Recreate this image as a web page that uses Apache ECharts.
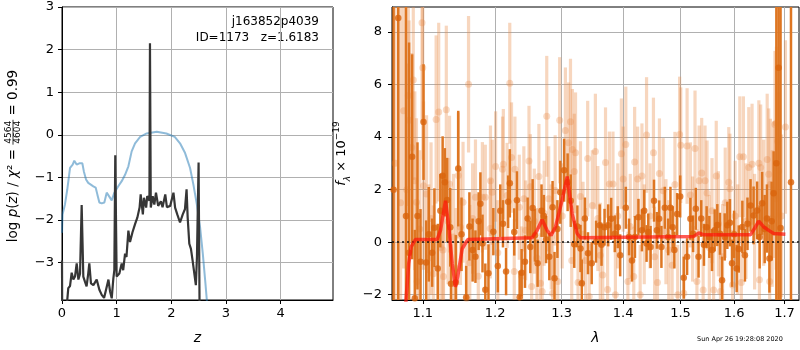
<!DOCTYPE html>
<html>
<head>
<meta charset="utf-8">
<script src="https://cdn.jsdelivr.net/npm/echarts@6/dist/echarts.min.js"></script>
<style>html,body{margin:0;padding:0;background:#fff}#main{width:800px;height:350px}</style>
</head>
<body>
<div id="main"></div>
<script>
// ---- left panel: log p(z) ----
var zPz = [0, 0.01, 0.055, 0.097, 0.147, 0.195, 0.225, 0.268, 0.317, 0.372, 0.40, 0.44, 0.48, 0.51, 0.574, 0.616, 0.647, 0.684, 0.727, 0.775, 0.818, 0.86, 0.91, 0.958, 1.03, 1.093, 1.154, 1.215, 1.275, 1.337, 1.43, 1.55, 1.734, 1.91, 2.064, 2.16, 2.253, 2.344, 2.405, 2.467, 2.527, 2.577, 2.625, 2.65, 2.70];
var lnPz = [-2.3, -1.87, -1.63, -1.28, -0.78, -0.70, -0.61, -0.70, -0.67, -0.67, -0.86, -1.05, -1.13, -1.17, -1.21, -1.24, -1.40, -1.59, -1.61, -1.59, -1.36, -1.44, -1.54, -1.36, -1.21, -1.09, -0.94, -0.74, -0.39, -0.20, -0.05, 0.03, 0.07, 0.03, -0.05, -0.20, -0.43, -0.78, -1.17, -1.63, -2.17, -2.79, -3.49, -3.87, -4.6];

var zChi = [0, 0.005, 0.09, 0.097, 0.115, 0.147, 0.177, 0.208, 0.238, 0.269, 0.30, 0.33, 0.36, 0.39, 0.42, 0.45, 0.48, 0.50, 0.53, 0.574, 0.635, 0.684, 0.727, 0.77, 0.806, 0.85, 0.88, 0.91, 0.94, 0.958, 0.975, 1.0, 1.05, 1.093, 1.12, 1.154, 1.18, 1.215, 1.245, 1.29, 1.337, 1.38, 1.42, 1.44, 1.48, 1.50, 1.54, 1.56, 1.60, 1.61, 1.625, 1.66, 1.69, 1.72, 1.76, 1.81, 1.84, 1.89, 1.92, 1.98, 2.04, 2.07, 2.11, 2.16, 2.21, 2.25, 2.28, 2.30, 2.33, 2.36, 2.39, 2.42, 2.45, 2.47, 2.50, 2.52];
var lnChi = [-2.95, -4.5, -4.5, -3.87, -3.6, -3.55, -3.24, -3.4, -3.33, -3.02, -3.4, -3.26, -1.65, -3.33, -3.45, -3.56, -3.26, -3.02, -3.49, -3.53, -3.4, -3.64, -3.76, -3.83, -3.64, -3.4, -3.68, -3.84, -3.37, -3.18, -0.48, -3.33, -3.26, -3.02, -3.18, -2.79, -2.87, -2.25, -2.52, -2.29, -2.1, -1.94, -1.71, -1.40, -1.87, -1.48, -1.71, -1.44, -1.55, 2.15, -1.71, -1.44, -1.64, -1.36, -1.67, -1.56, -1.70, -1.40, -1.70, -1.67, -1.36, -1.71, -1.87, -2.06, -1.87, -1.75, -1.28, -1.94, -2.56, -2.68, -2.95, -2.91, -3.53, -2.87, -0.65, -4.5];

var zTicks = [0, 1, 2, 3, 4];
var pzTicks = [-3, -2, -1, 0, 1, 2, 3];

// ---- right panel: spectrum ----
var waveD = [1.062, 1.068, 1.078, 1.082, 1.086, 1.0895, 1.093, 1.097, 1.101, 1.1045, 1.108, 1.1125, 1.1155, 1.120, 1.1235, 1.1266, 1.1296, 1.1326, 1.137, 1.138, 1.1446, 1.148, 1.1525, 1.159, 1.1635, 1.168, 1.172, 1.1765, 1.179, 1.182, 1.186, 1.1905, 1.1975, 1.204, 1.2075, 1.2115, 1.216, 1.219, 1.2215, 1.228, 1.232, 1.236, 1.239, 1.244, 1.248, 1.252, 1.2555, 1.259, 1.263, 1.269, 1.2725, 1.276, 1.281, 1.286, 1.289, 1.2935, 1.298, 1.304, 1.3095, 1.3145, 1.320, 1.325, 1.330, 1.332, 1.337, 1.342, 1.348, 1.355, 1.361, 1.364, 1.369, 1.375, 1.380, 1.386, 1.391, 1.395, 1.4045, 1.41, 1.415, 1.42, 1.426, 1.432, 1.436, 1.44, 1.443, 1.447, 1.453, 1.458, 1.462, 1.466, 1.472, 1.478, 1.482, 1.486, 1.489, 1.494, 1.4995, 1.506, 1.512, 1.518, 1.523, 1.528, 1.533, 1.538, 1.543, 1.548, 1.553, 1.558, 1.563, 1.568, 1.573, 1.577, 1.582, 1.587, 1.592, 1.596, 1.600, 1.605, 1.609, 1.616, 1.621, 1.626, 1.632, 1.638, 1.645, 1.650, 1.655, 1.660, 1.6645, 1.6695, 1.674, 1.678, 1.6835, 1.688, 1.692, 1.7134];
var fluxD = [2.0, 8.53, 1.0, -0.4, 3.25, -2.13, 1.0, -0.74, 4.57, -0.77, 0.3, -0.40, 0.55, -1.0, 1.2, 2.53, 2.28, 1.61, 0.57, -1.58, -1.53, 2.8, 0.3, -2.1, 0.6, -0.3, -0.55, 0.8, 1.46, -0.05, -1.81, -1.18, 0.4, -0.91, 1.2, 0.70, -1.12, 1.54, 2.24, 0.39, 1.6, -2.1, -1.16, -0.74, 0.9, -0.18, 1.3, 0.26, -0.8, 1.2, 1.0, 0.1, -0.55, 1.33, -1.37, 0.5, 1.9, 2.74, 2.28, 1.58, -0.08, 0.6, -0.24, -1.56, 0.9, -0.42, -0.80, 0.02, 0.64, -0.1, 0.57, 0.64, 0.89, 0.32, 0.57, -0.5, 1.31, 0.2, -0.70, 0.2, 0.95, 0.45, 1.2, -0.05, 0.39, -0.18, 1.58, 0.45, 0.89, -0.18, 1.31, 0.2, 1.31, 0.57, -0.3, 1.07, 1.74, -1.35, -0.55, 0.89, 0.32, 1.27, -0.55, 0.9, -0.1, 0.57, 0.2, -0.3, 0.45, 0.65, 0.32, -1.45, 0.2, 0.64, 0.74, -0.8, 0.3, -1.0, -0.26, 0.58, -0.5, 0.70, 1.40, 1.02, 1.21, 0.2, 1.48, 0.5, 0.9, -0.62, 0.8, 1.86, 3.0, 6.64, 0.54, 2.28];
var errD = [15, 15, 12, 8, 3.9, 2.6, 2.8, 2.0, 2.2, 1.6, 1.8, 1.3, 1.5, 1.7, 1.4, 1.5, 1.3, 1.6, 1.5, 1.5, 1.8, 2.2, 1.4, 1.2, 1.3, 1.2, 1.0, 1.1, 1.2, 1.1, 1.0, 1.1, 0.9, 1.0, 1.0, 0.9, 0.9, 1.0, 1.3, 0.9, 1.1, 1.0, 0.9, 1.0, 0.8, 1.0, 1.1, 1.0, 0.9, 1.0, 0.8, 0.9, 0.9, 1.0, 1.0, 1.1, 1.2, 1.2, 1.1, 1.0, 0.9, 0.8, 0.9, 0.9, 0.8, 0.8, 0.8, 0.8, 0.8, 0.8, 0.7, 0.8, 0.8, 0.7, 0.8, 0.8, 0.8, 0.7, 0.8, 0.8, 0.7, 0.8, 0.8, 0.7, 0.7, 0.8, 0.8, 0.7, 0.7, 0.8, 0.8, 0.7, 0.8, 0.8, 0.7, 0.8, 0.8, 0.8, 0.7, 0.8, 0.7, 0.8, 0.8, 0.7, 0.8, 0.8, 0.8, 0.8, 0.8, 0.8, 0.8, 0.9, 0.9, 0.9, 0.9, 0.9, 0.9, 0.9, 0.9, 1.0, 1.0, 1.0, 1.0, 1.1, 1.1, 1.2, 1.2, 1.3, 1.3, 1.3, 1.5, 1.6, 12, 12, 12, 15];

var waveL = [1.064, 1.071, 1.075, 1.079, 1.081, 1.082, 1.0855, 1.0875, 1.0895, 1.0917, 1.0926, 1.096, 1.099, 1.100, 1.101, 1.105, 1.108, 1.111, 1.114, 1.1178, 1.1213, 1.124, 1.1271, 1.1278, 1.1316, 1.134, 1.136, 1.1415, 1.145, 1.148, 1.151, 1.1546, 1.1595, 1.1623, 1.164, 1.168, 1.172, 1.176, 1.1818, 1.186, 1.1934, 1.193, 1.196, 1.2008, 1.204, 1.2108, 1.212, 1.2175, 1.2214, 1.224, 1.228, 1.229, 1.2355, 1.239, 1.2423, 1.245, 1.250, 1.252, 1.254, 1.258, 1.262, 1.265, 1.2674, 1.270, 1.273, 1.277, 1.280, 1.284, 1.286, 1.290, 1.294, 1.297, 1.301, 1.306, 1.311, 1.314, 1.316, 1.317, 1.320, 1.322, 1.326, 1.3299, 1.334, 1.338, 1.3415, 1.344, 1.349, 1.354, 1.358, 1.362, 1.366, 1.3706, 1.374, 1.377, 1.383, 1.387, 1.391, 1.397, 1.400, 1.4045, 1.408, 1.412, 1.418, 1.4195, 1.4246, 1.429, 1.432, 1.436, 1.440, 1.446, 1.452, 1.454, 1.459, 1.4625, 1.469, 1.474, 1.479, 1.485, 1.490, 1.495, 1.4985, 1.5005, 1.506, 1.512, 1.518, 1.522, 1.5265, 1.530, 1.534, 1.5388, 1.5415, 1.545, 1.5488, 1.553, 1.558, 1.561, 1.566, 1.570, 1.574, 1.578, 1.583, 1.5898, 1.592, 1.597, 1.602, 1.607, 1.611, 1.614, 1.618, 1.623, 1.6285, 1.635, 1.640, 1.6484, 1.6495, 1.652, 1.658, 1.665, 1.668, 1.670, 1.6715, 1.675, 1.678, 1.6806, 1.683, 1.6836, 1.686, 1.688, 1.694, 1.702];
var fluxL = [3.0, 1.5, 5.0, 2.0, 5.58, 4.64, 3.6, 6.17, 2.34, 1.52, -1.50, 0.5, 8.35, 6.64, 2.15, 1.83, -0.6, 0.9, -1.2, 4.67, 4.95, -0.2, -0.30, -1.31, 5.04, 0.8, 2.21, 0.2, -1.0, 2.54, 0.57, 1.52, -2.13, 6.01, -0.78, 0.9, 1.71, -1.3, 1.71, 1.71, 2.34, 0.52, 1.9, 2.88, -0.4, 2.78, 2.97, 1.78, 6.05, 3.22, -1.12, 2.78, 1.33, -1.3, 1.65, 0.45, 3.09, 2.11, -1.69, 0.8, -0.6, 2.5, -1.56, -1.88, 1.1, 4.79, 1.65, 0.2, -1.94, 1.97, -1.5, 4.64, 1.0, 4.25, 3.78, 4.58, -0.70, 3.53, 2.69, 3.4, -1.53, 1.74, 0.3, -0.7, 3.18, -2.07, 1.4, 3.45, 0.9, -0.5, -1.25, 3.03, -1.8, 2.21, 2.21, -2.0, 1.0, 3.37, 2.4, 3.72, -1.5, 0.6, -1.31, 3.05, 2.4, -2.0, 2.52, 0.3, 4.08, 1.0, 3.4, -0.55, -1.53, 2.61, 1.96, 0.4, -0.3, -0.88, 2.2, -2.0, 4.1, 3.69, -1.94, 3.66, 1.8, 0.5, 3.57, -1.5, 2.34, 2.63, -1.82, 2.34, 1.87, -0.2, 1.2, -1.82, 2.52, 0.7, -1.88, -0.55, 1.5, 2.28, 2.03, -1.63, 1.0, 0.1, 3.25, -1.53, 3.25, 0.8, 2.84, 2.97, 0.4, 3.0, -1.43, 2.84, 1.5, 3.15, 2.59, -1.5, 2.2, 0.9, 2.0, 4.48, 1.65, 4.54, 3.84, 2.71, 1.0, 4.38];
var errL = [10, 8, 6, 4.8, 4.2, 3.8, 3.6, 3.8, 3.4, 3.2, 3.0, 3.0, 3.8, 3.5, 3.2, 3.0, 2.8, 2.9, 2.6, 3.2, 3.4, 2.6, 2.5, 2.5, 3.2, 2.4, 2.6, 2.4, 2.3, 2.4, 2.2, 2.3, 2.2, 2.6, 2.2, 2.1, 2.2, 2.0, 2.1, 2.0, 2.1, 1.9, 2.0, 2.1, 2.0, 2.0, 2.1, 2.0, 2.3, 2.1, 2.0, 2.0, 2.0, 1.9, 2.0, 1.9, 2.1, 2.0, 1.9, 2.0, 1.9, 2.0, 1.9, 1.9, 2.0, 2.3, 2.0, 2.0, 2.0, 2.1, 2.0, 2.4, 2.0, 2.4, 2.3, 2.4, 2.1, 2.3, 2.2, 2.3, 2.0, 2.1, 2.0, 2.0, 2.2, 2.0, 2.1, 2.2, 2.0, 2.0, 2.0, 2.1, 2.0, 2.0, 2.0, 1.9, 2.0, 2.1, 2.0, 2.2, 1.9, 2.0, 1.9, 2.1, 2.0, 1.9, 2.0, 1.9, 2.2, 2.0, 2.1, 1.9, 1.9, 2.1, 2.0, 2.0, 1.9, 1.9, 2.0, 1.9, 2.2, 2.2, 2.0, 2.2, 2.0, 2.0, 2.2, 2.0, 2.1, 2.1, 2.0, 2.1, 2.0, 2.0, 2.0, 2.0, 2.1, 2.0, 2.0, 2.0, 2.1, 2.1, 2.1, 2.1, 2.1, 2.1, 2.3, 2.1, 2.3, 2.2, 2.3, 2.3, 2.2, 2.4, 2.2, 2.4, 2.4, 2.5, 2.5, 2.5, 2.5, 2.6, 2.6, 2.8, 2.7, 2.9, 2.9, 3.0, 3.1, 3.3];

var waveM = [1.076, 1.0816, 1.0847, 1.0902, 1.1192, 1.1237, 1.1305, 1.135, 1.1396, 1.1441, 1.1473, 1.1534, 1.1611, 1.2547, 1.2623, 1.2699, 1.2775, 1.2837, 1.2905, 1.3009, 1.3088, 1.3167, 1.3246, 1.3299, 1.5243, 1.5336, 1.5428, 1.6317, 1.6416, 1.6482, 1.6581, 1.6681, 1.6781, 1.7019];
var fluxM = [-3.0, -0.8, -0.18, 0.10, 0.10, 0.45, 1.58, 0.58, -0.80, -1.70, -1.30, -0.25, 0.10, 0.17, 0.45, 0.85, 0.45, 0.26, 0.58, 1.6, 2.5, 1.08, 0.33, 0.17, 0.22, 0.35, 0.28, 0.28, 0.58, 0.8, 0.58, 0.45, 0.33, 0.3];

var lamTicks = [1.1, 1.2, 1.3, 1.4, 1.5, 1.6, 1.7];
var fTicks = [-2, 0, 2, 4, 6, 8];

var FONT = 'DejaVu Sans';
function minus(v) { return String(v).replace('-', '\u2212'); }
function pairs(xs, ys) { return xs.map(function (x, i) { return [x, ys[i]]; }); }
function spec(ws, fs, es) { return ws.map(function (w, i) { return [Math.log(w), fs[i], es[i]]; }); }
function errBar(color, width) {
  return function (params, api) {
    var x = api.value(0), y = api.value(1), e = api.value(2);
    var a = api.coord([x, y - e]), b = api.coord([x, y + e]);
    return { type: 'line', shape: { x1: a[0], y1: a[1], x2: b[0], y2: b[1] },
             style: { stroke: color, lineWidth: width } };
  };
}

// measure text so the rotated y label pieces sit next to each other
var mctx = document.createElement('canvas').getContext('2d');
function tw(t, f) { mctx.font = f; return mctx.measureText(t).width; }
var LF = 13.5;
var fN = LF + 'px "DejaVu Sans"', fI = 'italic ' + LF + 'px "DejaVu Sans"', fS = '9px "DejaVu Sans"';
var w1 = tw('log ', fN) + tw('p', fI) + tw('(', fN) + tw('z', fI) + tw(') / ', fN) + tw('χ', fI) + tw('² = ', fN);
var wf = Math.max(tw('4564', fS), tw('4604', fS)) + 2;
var w3 = tw(' = 0.99', fN);
var wTot = w1 + wf + w3;
var labStart = 156 + wTot / 2;

var axisCommon = {
  axisLine: { show: true, onZero: false, lineStyle: { color: '#000', width: 1 } },
  axisTick: { show: true, length: 4, lineStyle: { color: '#000' } },
  splitLine: { show: true, lineStyle: { color: '#b0b0b0', width: 1 } },
  axisLabel: { color: '#000', fontFamily: FONT, fontSize: 13 }
};
function ax(extra) { return echarts.util.merge(echarts.util.clone(axisCommon), extra, true); }

var chart = echarts.init(document.getElementById('main'));
chart.setOption({
  animation: false,
  backgroundColor: '#fff',
  grid: [
    { left: 62, top: 7, width: 271, height: 297, show: true, borderColor: '#000', borderWidth: 1, backgroundColor: 'transparent' },
    { left: 392, top: 7, width: 407, height: 297, show: true, borderColor: '#000', borderWidth: 1, backgroundColor: 'transparent' }
  ],
  xAxis: [
    ax({ gridIndex: 0, type: 'value', min: 0, max: 4.96,
      axisTick: { customValues: zTicks }, axisLabel: { customValues: zTicks, margin: 7 },
      name: 'z', nameLocation: 'middle', nameGap: 31,
      nameTextStyle: { fontFamily: FONT, fontSize: 14, fontStyle: 'italic', color: '#000' } }),
    ax({ gridIndex: 1, type: 'value', min: Math.log(1.06), max: Math.log(1.73),
      axisTick: { customValues: lamTicks.map(Math.log) },
      axisLabel: { customValues: lamTicks.map(Math.log), margin: 7,
        formatter: function (v) { return Math.exp(v).toFixed(1); } },
      name: 'λ', nameLocation: 'middle', nameGap: 31,
      nameTextStyle: { fontFamily: FONT, fontSize: 14, fontStyle: 'italic', color: '#000' } })
  ],
  yAxis: [
    ax({ gridIndex: 0, type: 'value', min: -3.88, max: 3,
      axisTick: { customValues: pzTicks },
      axisLabel: { customValues: pzTicks, margin: 8, formatter: minus } }),
    ax({ gridIndex: 1, type: 'value', min: -2.2, max: 8.95,
      axisTick: { customValues: fTicks },
      axisLabel: { customValues: fTicks, margin: 10, formatter: minus },
      name: '{i|f}{sub|λ}{n| × 10}{sup|−19}', nameLocation: 'middle', nameRotate: 90, nameGap: 40,
      nameTextStyle: { color: '#000', fontFamily: FONT, fontSize: 13,
        rich: {
          i: { fontFamily: FONT, fontSize: 13, fontStyle: 'italic', lineHeight: 20, color: '#000' },
          n: { fontFamily: FONT, fontSize: 13, lineHeight: 20, color: '#000' },
          sub: { fontFamily: FONT, fontSize: 9, fontStyle: 'italic', verticalAlign: 'bottom', color: '#000' },
          sup: { fontFamily: FONT, fontSize: 9, verticalAlign: 'top', color: '#000' }
        } } })
  ],
  series: [
    { type: 'line', xAxisIndex: 0, yAxisIndex: 0, data: pairs(zPz, lnPz), showSymbol: false,
      lineStyle: { color: 'rgba(31,119,180,0.5)', width: 2 }, z: 3 },
    { type: 'line', xAxisIndex: 0, yAxisIndex: 0, data: pairs(zChi, lnChi), showSymbol: false,
      lineStyle: { color: '#363636', width: 2.2 }, z: 4 },

    { type: 'custom', xAxisIndex: 1, yAxisIndex: 1, clip: true, data: spec(waveL, fluxL, errL),
      encode: { x: 0, y: 1 }, renderItem: errBar('rgba(232,140,75,0.36)', 3.2), z: 2 },
    { type: 'scatter', xAxisIndex: 1, yAxisIndex: 1, data: spec(waveL, fluxL, errL),
      symbolSize: 7, itemStyle: { color: 'rgba(232,140,75,0.4)' }, z: 2 },
    { type: 'custom', xAxisIndex: 1, yAxisIndex: 1, clip: true, data: spec(waveD, fluxD, errD),
      encode: { x: 0, y: 1 }, renderItem: errBar('#de7622', 2.5), z: 3 },
    { type: 'scatter', xAxisIndex: 1, yAxisIndex: 1, data: spec(waveD, fluxD, errD),
      symbolSize: 6.5, itemStyle: { color: '#d9640c' }, z: 3 },
    { type: 'line', xAxisIndex: 1, yAxisIndex: 1, data: pairs(waveM.map(Math.log), fluxM), showSymbol: false,
      lineStyle: { color: 'rgba(255,20,10,0.7)', width: 3.5 }, z: 5,
      markLine: { silent: true, symbol: 'none', label: { show: false },
        lineStyle: { color: '#111', type: [2, 3], width: 1.6 }, data: [{ yAxis: 0 }] } }
  ],
  graphic: [
    { type: 'text', right: 481, top: 16, style: { text: 'j163852p4039', fontFamily: FONT, fontSize: 12, fill: '#000', align: 'right' } },
    { type: 'text', right: 481, top: 32, style: { text: 'ID=1173   z=1.6183', fontFamily: FONT, fontSize: 12, fill: '#000', align: 'right' } },
    { type: 'text', left: 697, top: 336, style: { text: 'Sun Apr 26 19:28:08 2020', fontFamily: FONT, fontSize: 6.5, fill: '#000' } },
    { type: 'group', x: 13, y: labStart, rotation: Math.PI / 2, children: [
      { type: 'text', x: 0, y: 0, style: { text: '{n|log }{i|p}{n|(}{i|z}{n|) / }{i|χ}{n|² = }',
          verticalAlign: 'middle', align: 'left', fill: '#000',
          rich: { n: { fontFamily: FONT, fontSize: LF, fill: '#000' }, i: { fontFamily: FONT, fontSize: LF, fontStyle: 'italic', fill: '#000' } } } },
      { type: 'text', x: w1 + wf / 2, y: -4.5, style: { text: '4564', fontFamily: FONT, fontSize: 9, fill: '#000', align: 'center', verticalAlign: 'middle' } },
      { type: 'line', shape: { x1: w1, y1: 0, x2: w1 + wf, y2: 0 }, style: { stroke: '#000', lineWidth: 0.8 } },
      { type: 'text', x: w1 + wf / 2, y: 4.5, style: { text: '4604', fontFamily: FONT, fontSize: 9, fill: '#000', align: 'center', verticalAlign: 'middle' } },
      { type: 'text', x: w1 + wf, y: 0, style: { text: ' = 0.99', fontFamily: FONT, fontSize: LF, fill: '#000', align: 'left', verticalAlign: 'middle' } }
    ] }
  ]
});
</script>
</body>
</html>
